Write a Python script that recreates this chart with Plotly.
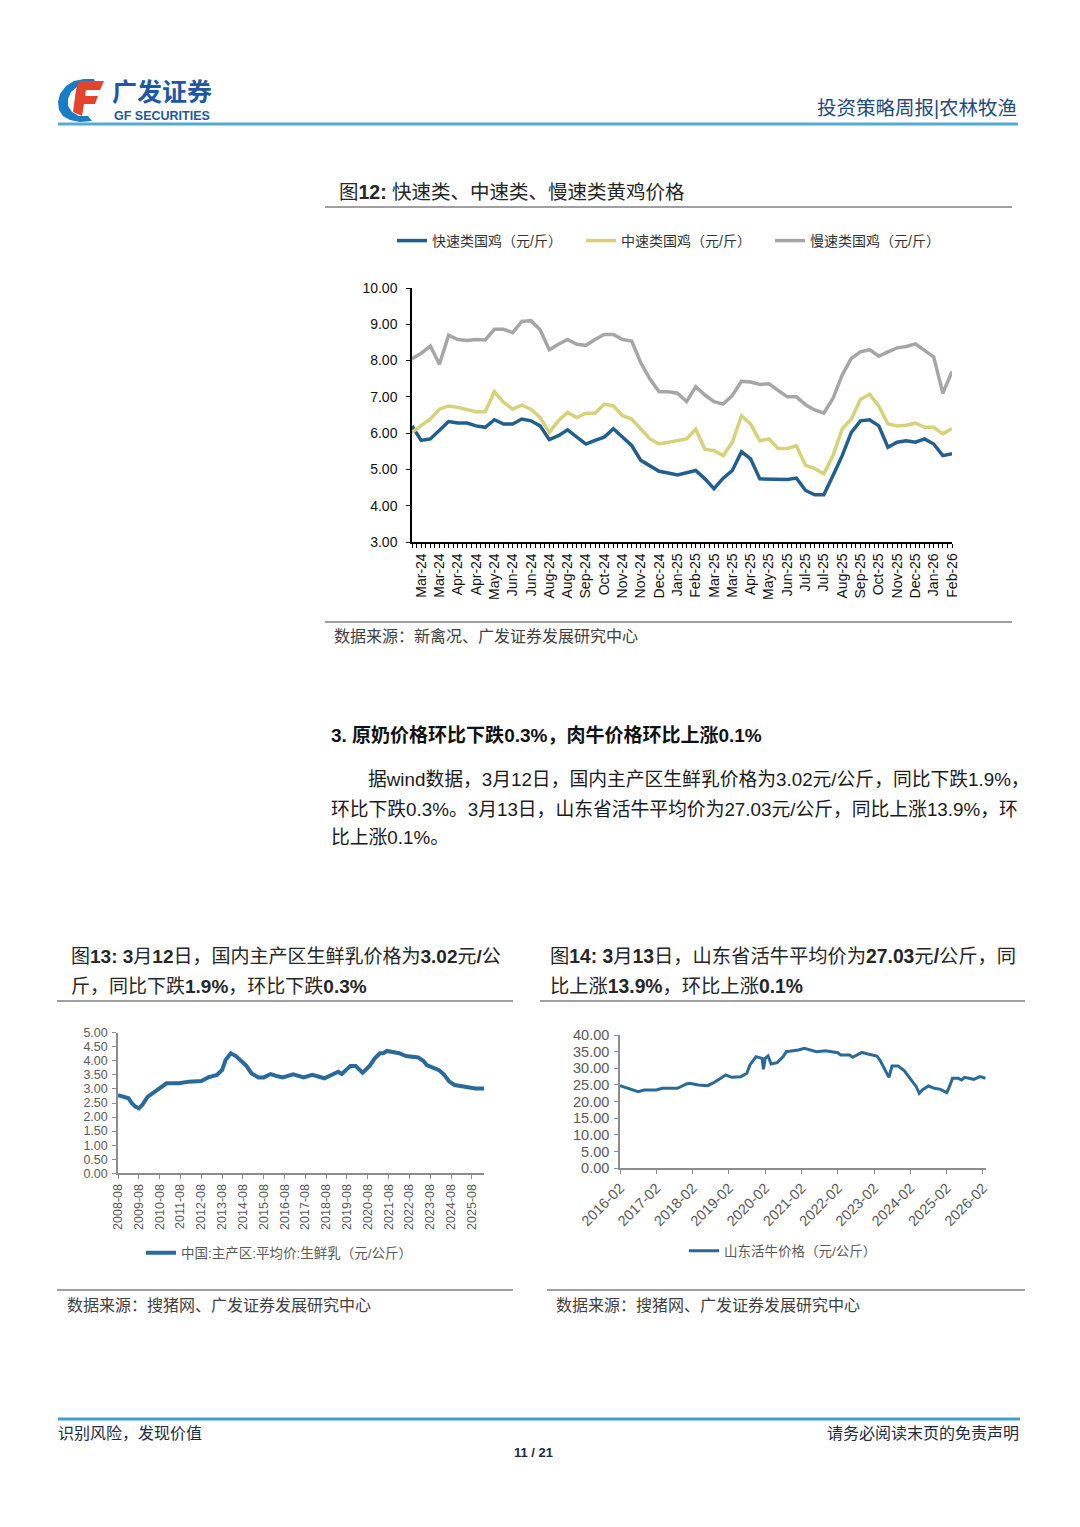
import plotly.graph_objects as go

W, H = 1080, 1527


def px(x):
    return x / W


def py(y):
    return 1 - y / H


FONT = "Liberation Sans, Arial, Noto Sans CJK SC, sans-serif"

# ---------------- Chart 12 data: yellow-feather broiler prices ----------------
c12_labels = ["Mar-24", "Mar-24", "Apr-24", "Apr-24", "May-24", "Jun-24", "Jun-24", "Aug-24",
              "Aug-24", "Sep-24", "Oct-24", "Nov-24", "Nov-24", "Dec-24", "Jan-25", "Feb-25",
              "Mar-25", "Mar-25", "Apr-25", "May-25", "Jun-25", "Jul-25", "Jul-25", "Aug-25",
              "Sep-25", "Oct-25", "Nov-25", "Dec-25", "Jan-26", "Feb-26"]
c12_fast = [6.20, 5.80, 5.84, 6.07, 6.32, 6.28, 6.28, 6.20, 6.16, 6.37,
            6.25, 6.25, 6.39, 6.34, 6.20, 5.82, 5.93, 6.09, 5.89, 5.70,
            5.80, 5.89, 6.12, 5.89, 5.66, 5.25, 5.11, 4.95, 4.90, 4.85,
            4.91, 4.97, 4.74, 4.47, 4.76, 4.97, 5.49, 5.29, 4.74, 4.74,
            4.72, 4.72, 4.76, 4.42, 4.30, 4.30, 4.83, 5.38, 6.02, 6.34,
            6.37, 6.20, 5.61, 5.75, 5.79, 5.75, 5.84, 5.70, 5.38, 5.43]
c12_medium = [6.02, 6.20, 6.39, 6.66, 6.75, 6.71, 6.66, 6.59, 6.59, 7.14,
              6.85, 6.66, 6.77, 6.66, 6.43, 6.02, 6.34, 6.57, 6.43, 6.55,
              6.55, 6.80, 6.75, 6.48, 6.39, 6.13, 5.84, 5.70, 5.75, 5.79,
              5.84, 6.11, 5.56, 5.52, 5.38, 5.75, 6.48, 6.25, 5.79, 5.84,
              5.58, 5.58, 5.65, 5.11, 5.02, 4.88, 5.38, 6.11, 6.39, 6.93,
              7.07, 6.75, 6.25, 6.20, 6.22, 6.28, 6.16, 6.16, 5.98, 6.13]
c12_slow = [8.05, 8.20, 8.40, 7.90, 8.70, 8.58, 8.55, 8.58, 8.57, 8.86,
            8.86, 8.77, 9.08, 9.10, 8.85, 8.30, 8.45, 8.58, 8.45, 8.42,
            8.58, 8.72, 8.72, 8.58, 8.54, 7.94, 7.49, 7.14, 7.14, 7.10,
            6.87, 7.28, 7.05, 6.87, 6.80, 7.04, 7.43, 7.41, 7.34, 7.36,
            7.18, 7.00, 7.00, 6.78, 6.64, 6.55, 6.96, 7.60, 8.06, 8.24,
            8.30, 8.12, 8.24, 8.35, 8.39, 8.46, 8.28, 8.10, 7.10, 7.70]
c12_names = ["快速类国鸡（元/斤）", "中速类国鸡（元/斤）", "慢速类国鸡（元/斤）"]
c12_yticks = [3, 4, 5, 6, 7, 8, 9, 10]

# ---------------- Chart 13 data: raw milk price ----------------
milk_dates = ["2008-08", "2008-11", "2009-02", "2009-04", "2009-06", "2009-08", "2009-10",
              "2010-01", "2010-04", "2010-08", "2010-12", "2011-07", "2012-01", "2012-08",
              "2012-12", "2013-05", "2013-08", "2013-10", "2014-01", "2014-04", "2014-07",
              "2014-10", "2015-01", "2015-05", "2015-08", "2015-12", "2016-04", "2016-07",
              "2017-01", "2017-07", "2017-12", "2018-07", "2019-03", "2019-05", "2019-10",
              "2020-01", "2020-05", "2020-09", "2020-12", "2021-03", "2021-05", "2021-07",
              "2022-02", "2022-06", "2023-01", "2023-04", "2023-06", "2023-09", "2024-01",
              "2024-04", "2024-07", "2024-10", "2025-03", "2025-07", "2025-10", "2026-03"]
milk_vals = [2.78, 2.72, 2.67, 2.49, 2.37, 2.31, 2.43, 2.72, 2.84, 3.02,
             3.20, 3.20, 3.26, 3.28, 3.41, 3.50, 3.67, 4.03, 4.27, 4.17,
             3.97, 3.82, 3.55, 3.41, 3.41, 3.53, 3.45, 3.41, 3.52, 3.41,
             3.50, 3.38, 3.61, 3.53, 3.82, 3.82, 3.58, 3.82, 4.09, 4.27,
             4.27, 4.35, 4.27, 4.17, 4.12, 4.00, 3.85, 3.76, 3.67, 3.50,
             3.26, 3.14, 3.08, 3.05, 3.02, 3.02]
milk_name = "中国:主产区:平均价:生鲜乳（元/公斤）"

# ---------------- Chart 14 data: Shandong live cattle price ----------------
cattle_dates = ["2016-02", "2016-05", "2016-08", "2016-10", "2017-02", "2017-04", "2017-09",
                "2017-12", "2018-01", "2018-04", "2018-07", "2018-09", "2018-12", "2019-01",
                "2019-03", "2019-06", "2019-08", "2019-09", "2019-11", "2020-01-01",
                "2020-01-15", "2020-02-01", "2020-03", "2020-04", "2020-06", "2020-08",
                "2020-09", "2021-01", "2021-03", "2021-07", "2021-10", "2022-02", "2022-03",
                "2022-06", "2022-07", "2022-10", "2022-12", "2023-03", "2023-04", "2023-06",
                "2023-07", "2023-08", "2023-10", "2023-12", "2024-02", "2024-04", "2024-05",
                "2024-06", "2024-08", "2024-10", "2024-12", "2025-02", "2025-03", "2025-04",
                "2025-06", "2025-07", "2025-08", "2025-11", "2026-01", "2026-03"]
cattle_vals = [24.8, 24.0, 23.0, 23.5, 23.5, 24.0, 24.0, 25.3, 25.5, 25.0,
               24.8, 25.7, 27.3, 28.0, 27.3, 27.5, 28.5, 31.0, 33.5, 33.0,
               29.7, 33.0, 33.7, 31.3, 31.7, 33.5, 35.0, 35.5, 36.0, 35.0,
               35.3, 34.7, 34.0, 34.0, 33.3, 34.8, 34.3, 33.7, 32.5, 29.0,
               27.3, 30.7, 30.7, 29.3, 27.0, 24.5, 22.5, 23.5, 24.7, 24.0,
               23.7, 22.7, 24.5, 27.0, 27.0, 26.5, 27.3, 26.7, 27.5, 27.0]
cattle_name = "山东活牛价格（元/公斤）"

# ---------------- colours ----------------
BLUE = "#225f8e"
YELLOW = "#d8d17c"
GRAY = "#a6a6a6"
BLUE2 = "#2a6a9b"

fig = go.Figure()

c12_x = list(range(len(c12_fast)))
for vals, name, col in zip([c12_fast, c12_medium, c12_slow], c12_names, [BLUE, YELLOW, GRAY]):
    fig.add_trace(go.Scatter(x=c12_x, y=vals, name=name, mode="lines",
                             line=dict(color=col, width=3.5), xaxis="x", yaxis="y",
                             legend="legend", hoverinfo="skip"))

fig.add_trace(go.Scatter(x=milk_dates, y=milk_vals, name=milk_name, mode="lines",
                         line=dict(color=BLUE2, width=4), xaxis="x2", yaxis="y2",
                         legend="legend2", hoverinfo="skip"))
fig.add_trace(go.Scatter(x=cattle_dates, y=cattle_vals, name=cattle_name, mode="lines",
                         line=dict(color=BLUE2, width=3), xaxis="x3", yaxis="y3",
                         legend="legend3", hoverinfo="skip"))

# chart 12 x ticks: one tick every half step, labels at odd positions
c12_tickvals = [k * 0.5 for k in range(0, 2 * (len(c12_x) - 1) + 1)]
c12_ticktext = []
for v in c12_tickvals:
    if v == int(v) and int(v) % 2 == 1:
        c12_ticktext.append(c12_labels[(int(v) - 1) // 2])
    else:
        c12_ticktext.append("")

axis_common = dict(showgrid=False, zeroline=False, showline=True, ticks="outside",
                   automargin=False, fixedrange=True)

fig.update_layout(
    width=W, height=H, autosize=False,
    margin=dict(l=0, r=0, t=0, b=0),
    paper_bgcolor="white", plot_bgcolor="white",
    font=dict(family=FONT, color="#222222"),
    xaxis=dict(domain=[px(412), px(952)], range=[0, len(c12_x) - 1], anchor="y",
               tickmode="array", tickvals=c12_tickvals, ticktext=c12_ticktext,
               tickangle=-90, ticklen=4, tickcolor="#000", linecolor="#000", linewidth=1.5,
               tickfont=dict(size=14, color="#111", family=FONT), **axis_common),
    yaxis=dict(domain=[py(542), py(288)], range=[3, 10], anchor="x",
               tickmode="array", tickvals=c12_yticks, tickformat=".2f",
               ticklen=4, tickcolor="#000", linecolor="#000", linewidth=1.5,
               ticklabelstandoff=6,
               tickfont=dict(size=14, color="#111", family=FONT), **axis_common),
    xaxis2=dict(domain=[px(118), px(484)], type="date",
                range=["2008-08-01", "2026-03-01"], anchor="y2",
                tick0="2008-08-01", dtick="M12", tickformat="%Y-%m", tickangle=-90,
                ticklen=4, tickcolor="#8c8c8c", linecolor="#8c8c8c", linewidth=1.5,
                tickfont=dict(size=12.5, color="#595959", family=FONT), **axis_common),
    yaxis2=dict(domain=[py(1173.3), py(1032.7)], range=[0, 5], anchor="x2",
                dtick=0.5, tick0=0, tickformat=".2f",
                ticklen=4, tickcolor="#8c8c8c", linecolor="#8c8c8c", linewidth=1.5,
                ticklabelstandoff=2,
                tickfont=dict(size=12.5, color="#595959", family=FONT), **axis_common),
    xaxis3=dict(domain=[px(620), px(985.7)], type="date",
                range=["2016-02-01", "2026-03-01"], anchor="y3",
                tick0="2016-02-01", dtick="M12", tickformat="%Y-%m", tickangle=-45,
                ticklen=4, tickcolor="#8c8c8c", linecolor="#8c8c8c", linewidth=1.5,
                tickfont=dict(size=14.5, color="#595959", family=FONT), **axis_common),
    yaxis3=dict(domain=[py(1168.3), py(1035)], range=[0, 40], anchor="x3",
                dtick=5, tick0=0, tickformat=".2f",
                ticklen=4, tickcolor="#8c8c8c", linecolor="#8c8c8c", linewidth=1.5,
                ticklabelstandoff=2,
                tickfont=dict(size=14.5, color="#595959", family=FONT), **axis_common),
    legend=dict(orientation="h", x=px(392), y=py(241), xanchor="left", yanchor="middle",
                font=dict(size=14, color="#333", family=FONT), bgcolor="rgba(0,0,0,0)",
                itemwidth=30, entrywidth=144, entrywidthmode="pixels"),
    legend2=dict(orientation="h", x=px(141), y=py(1253), xanchor="left", yanchor="middle",
                 font=dict(size=13.5, color="#595959", family=FONT), bgcolor="rgba(0,0,0,0)",
                 itemwidth=30),
    legend3=dict(orientation="h", x=px(684), y=py(1251), xanchor="left", yanchor="middle",
                 font=dict(size=13.5, color="#595959", family=FONT), bgcolor="rgba(0,0,0,0)",
                 itemwidth=30),
    showlegend=True,
)

# ---------------- page decorations ----------------
shapes = []


def hline(y, x0, x1, color, width):
    shapes.append(dict(type="line", xref="paper", yref="paper", x0=px(x0), x1=px(x1),
                       y0=py(y), y1=py(y), line=dict(color=color, width=width)))


def path(points):
    s = "M " + " L ".join(f"{px(a):.5f},{py(b):.5f}" for a, b in points) + " Z"
    return s


hline(124, 58, 1018, "#55a9d5", 3)
hline(207, 325, 1012, "#808080", 1.5)
hline(622, 325, 1012, "#808080", 1.5)
hline(1001, 57, 513, "#808080", 1.5)
hline(1290, 57, 513, "#808080", 1.5)
hline(1001, 540, 1025, "#808080", 1.5)
hline(1290, 547, 1025, "#808080", 1.5)
hline(1419, 58, 1020, "#3f9fcc", 3)

# logo: blue crescent + red italic F
crescent = [(94, 79), (84, 79), (74, 81), (66, 86), (60, 94), (58, 102), (59, 110),
            (63, 116), (70, 120), (80, 122), (92, 121), (88, 116), (79, 116), (72, 112),
            (68, 106), (68, 99), (71, 92), (77, 87), (86, 84), (96, 84)]
shapes.append(dict(type="path", xref="paper", yref="paper", path=path(crescent),
                   fillcolor="#1b7cc6", line=dict(width=0)))
f_shape = [(79, 81), (104, 81), (100, 90), (86, 90), (85, 96), (98, 96), (95, 104),
           (84, 104), (82, 116), (73, 112), (76, 90)]
shapes.append(dict(type="path", xref="paper", yref="paper", path=path(f_shape),
                   fillcolor="#e5432b", line=dict(width=0)))

annotations = []


def txt(x, y, s, size, color="#222222", anchor="left", family=FONT):
    annotations.append(dict(xref="paper", yref="paper", x=px(x), y=py(y), text=s,
                            showarrow=False, xanchor=anchor, yanchor="middle",
                            borderpad=0,
                            font=dict(size=size, color=color, family=family)))


txt(111, 92, "<b>广发证券</b>", 25, "#1e57a3")
txt(113, 116, "<b>GF SECURITIES</b>", 12.5, "#1e57a3")
txt(1018, 108, "投资策略周报|农林牧渔", 19.5, "#1f4a7c", anchor="right")

txt(338, 192, "图<b>12:</b> 快速类、中速类、慢速类黄鸡价格", 19.5, "#262626")
txt(333, 636, "数据来源：新禽况、广发证券发展研究中心", 16, "#404040")

txt(330, 735, "<b>3. 原奶价格环比下跌0.3%，肉牛价格环比上涨0.1%</b>", 19, "#111111")
txt(367, 779, "据wind数据，3月12日，国内主产区生鲜乳价格为3.02元/公斤，同比下跌1.9%，", 18.8, "#1a1a1a")
txt(330, 809, "环比下跌0.3%。3月13日，山东省活牛平均价为27.03元/公斤，同比上涨13.9%，环", 18.8, "#1a1a1a")
txt(330, 838, "比上涨0.1%。", 18.8, "#1a1a1a")

txt(70, 956, "图<b>13:</b> <b>3</b>月<b>12</b>日，国内主产区生鲜乳价格为<b>3.02</b>元<b>/</b>公", 19, "#262626")
txt(70, 986, "斤，同比下跌<b>1.9%</b>，环比下跌<b>0.3%</b>", 19, "#262626")
txt(549, 956, "图<b>14:</b> <b>3</b>月<b>13</b>日，山东省活牛平均价为<b>27.03</b>元<b>/</b>公斤，同", 19.3, "#262626")
txt(549, 986, "比上涨<b>13.9%</b>，环比上涨<b>0.1%</b>", 19.3, "#262626")

txt(66, 1305, "数据来源：搜猪网、广发证券发展研究中心", 16, "#404040")
txt(555, 1305, "数据来源：搜猪网、广发证券发展研究中心", 16, "#404040")

txt(57, 1433, "识别风险，发现价值", 16, "#1c2b45")
txt(1020, 1433, "请务必阅读末页的免责声明", 16, "#1c2b45", anchor="right")
txt(533, 1452, "<b>11 / 21</b>", 13, "#1c2b45", anchor="center")

fig.update_layout(shapes=shapes, annotations=annotations)

fig.write_html("out.html", config={"displayModeBar": False},
               post_script="document.body.style.margin='0';")
